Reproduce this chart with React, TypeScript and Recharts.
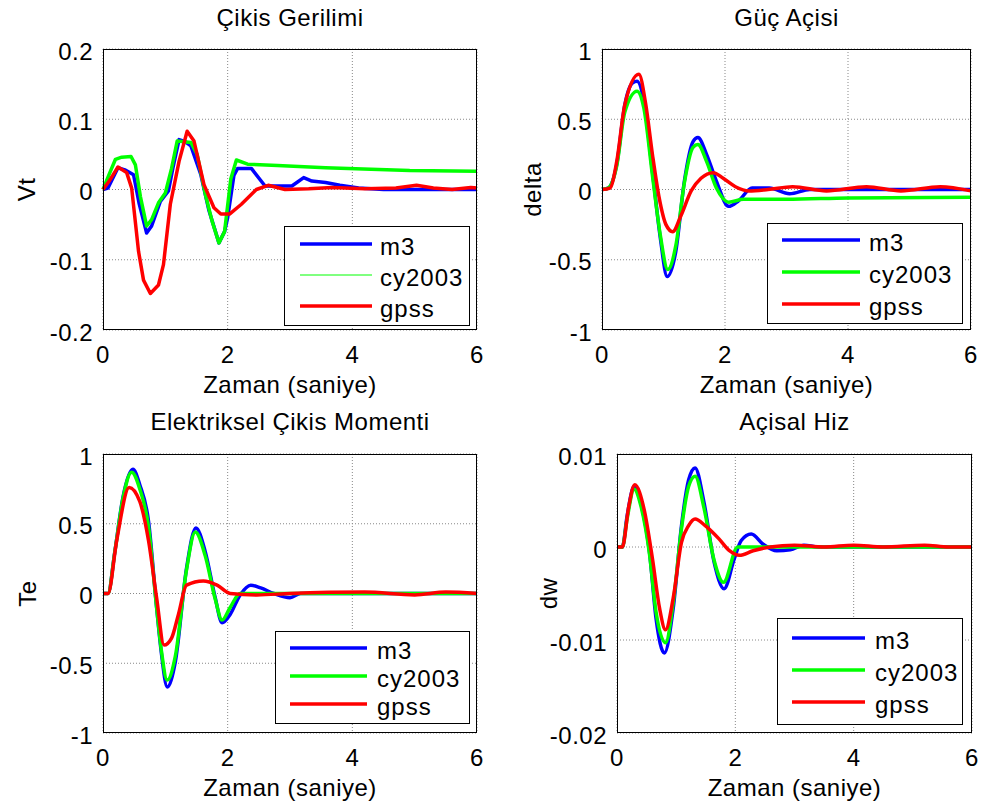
import { LineChart, Line, XAxis, YAxis, CartesianGrid } from "recharts";

type Pt = [number, number];

const seriesNames = ["m3", "cy2003", "gpss"];
const seriesColors = ["#0000ff", "#00ff00", "#ff0000"];
const xTicks = [0, 2, 4, 6];

// Çikis Gerilimi (Vt)
const vtTicks = [-0.2, -0.1, 0, 0.1, 0.2];
const vtM3: Pt[] = [
  [0, 0], [0.08, 0.002], [0.24, 0.031], [0.35, 0.028], [0.49, 0.021], [0.58, -0.02],
  [0.7, -0.062], [0.78, -0.052], [0.92, -0.017], [1.05, -0.002], [1.12, 0.03], [1.22, 0.071],
  [1.32, 0.068], [1.41, 0.062], [1.57, 0.021], [1.7, -0.03], [1.86, -0.076], [1.95, -0.06],
  [2.0, -0.04], [2.1, 0.02], [2.16, 0.03], [2.38, 0.03], [2.6, 0.005], [3.03, 0.005],
  [3.22, 0.017], [3.35, 0.012], [3.57, 0.01], [3.8, 0.006], [4.1, 0.002], [4.5, 0], [6, 0],
];
const vtCy: Pt[] = [
  [0, 0], [0.1, 0.022], [0.2, 0.043], [0.3, 0.046], [0.45, 0.047], [0.52, 0.035], [0.6, -0.01],
  [0.7, -0.052], [0.78, -0.043], [0.89, -0.019], [1.0, -0.005], [1.1, 0.03], [1.19, 0.069],
  [1.3, 0.068], [1.41, 0.067], [1.51, 0.05], [1.65, -0.01], [1.75, -0.045], [1.86, -0.076],
  [1.95, -0.06], [2.05, 0.015], [2.14, 0.042], [2.32, 0.036], [2.8, 0.034], [3.57, 0.031],
  [4.3, 0.029], [4.92, 0.027], [6, 0.026],
];
const vtGpss: Pt[] = [
  [0, 0], [0.1, 0.012], [0.24, 0.032], [0.38, 0.024], [0.46, 0.002], [0.57, -0.088],
  [0.65, -0.129], [0.76, -0.148], [0.89, -0.136], [0.97, -0.107], [1.08, -0.021], [1.22, 0.04],
  [1.35, 0.083], [1.46, 0.069], [1.62, 0.007], [1.78, -0.026], [1.89, -0.035], [2.03, -0.035],
  [2.22, -0.021], [2.46, 0], [2.65, 0.006], [2.92, 0], [3.3, 0.001], [3.68, 0.003], [4.2, 0.001],
  [4.7, 0.002], [5.03, 0.006], [5.3, 0.002], [5.6, 0], [5.9, 0.003], [6, 0.002],
];

// Güç Açisi (delta)
const unitTicks = [-1, -0.5, 0, 0.5, 1];
const deltaM3: Pt[] = [
  [0, 0], [0.1, 0.01], [0.24, 0.18], [0.37, 0.6], [0.5, 0.76], [0.57, 0.77], [0.68, 0.63],
  [0.82, 0.13], [0.95, -0.35], [1.06, -0.62], [1.2, -0.44], [1.34, 0.06], [1.48, 0.34],
  [1.56, 0.37], [1.7, 0.25], [1.86, 0.06], [2.06, -0.12], [2.22, -0.08], [2.44, 0.01],
  [2.72, 0.01], [3.05, -0.03], [3.38, 0], [6, 0],
];
const deltaCy: Pt[] = [
  [0, 0], [0.1, 0.01], [0.24, 0.17], [0.37, 0.55], [0.57, 0.7], [0.68, 0.58], [0.82, 0.1],
  [0.95, -0.33], [1.07, -0.57], [1.2, -0.4], [1.34, 0.05], [1.48, 0.3], [1.56, 0.32],
  [1.7, 0.2], [1.86, 0.01], [2.06, -0.09], [2.3, -0.07], [3.0, -0.07], [4.0, -0.06], [6, -0.055],
];
const deltaGpss: Pt[] = [
  [0, 0], [0.13, 0.01], [0.24, 0.2], [0.37, 0.6], [0.6, 0.82], [0.71, 0.61], [0.82, 0.25],
  [0.93, -0.06], [1.04, -0.25], [1.15, -0.3], [1.28, -0.19], [1.45, -0.01], [1.61, 0.08],
  [1.81, 0.12], [1.97, 0.08], [2.17, 0.02], [2.39, -0.01], [2.7, 0], [3.1, 0.02], [3.65, -0.01],
  [4.3, 0.02], [4.86, -0.01], [5.5, 0.02], [6, -0.01],
];

// Elektriksel Çikis Momenti (Te)
const teM3: Pt[] = [
  [0, 0], [0.08, 0], [0.19, 0.3], [0.32, 0.69], [0.48, 0.89], [0.59, 0.78], [0.73, 0.52],
  [0.86, -0.1], [0.94, -0.44], [1.03, -0.67], [1.16, -0.49], [1.34, 0.18], [1.49, 0.47],
  [1.64, 0.3], [1.8, -0.03], [1.91, -0.21], [2.04, -0.15], [2.2, -0.01], [2.37, 0.06],
  [2.53, 0.04], [2.74, 0], [3.0, -0.03], [3.17, 0], [6, 0],
];
const teCy: Pt[] = [
  [0, 0], [0.08, 0], [0.19, 0.3], [0.32, 0.68], [0.46, 0.87], [0.59, 0.75], [0.73, 0.48],
  [0.86, -0.1], [0.94, -0.42], [1.03, -0.62], [1.16, -0.45], [1.34, 0.17], [1.48, 0.44],
  [1.64, 0.27], [1.8, -0.04], [1.91, -0.19], [2.04, -0.1], [2.2, 0], [6, 0],
];
const teGpss: Pt[] = [
  [0, 0], [0.08, 0], [0.22, 0.38], [0.42, 0.76], [0.59, 0.66], [0.73, 0.38], [0.86, -0.03],
  [0.98, -0.37], [1.1, -0.32], [1.21, -0.15], [1.34, 0.06], [1.61, 0.09], [1.83, 0.06],
  [2.04, 0], [2.47, -0.01], [3.0, 0], [4.2, 0.01], [5.0, -0.01], [5.5, 0.01], [6, 0],
];

// Açisal Hiz (dw)
const dwTicks = [-0.02, -0.01, 0, 0.01];
const dwM3: Pt[] = [
  [0, 0], [0.09, 0], [0.17, 0.0033], [0.29, 0.0065], [0.4, 0.0048], [0.55, -0.0006],
  [0.66, -0.0077], [0.8, -0.0114], [0.95, -0.0066], [1.09, 0.0023], [1.21, 0.0072],
  [1.32, 0.0085], [1.47, 0.0048], [1.64, -0.0016], [1.81, -0.0045], [1.98, -0.0013],
  [2.1, 0.0007], [2.27, 0.0014], [2.47, 0.0003], [2.7, -0.0004], [2.93, -0.0003],
  [3.16, 0.0002], [3.4, 0], [6, 0],
];
const dwCy: Pt[] = [
  [0, 0], [0.09, 0], [0.17, 0.003], [0.29, 0.0062], [0.4, 0.0045], [0.55, -0.0008],
  [0.66, -0.007], [0.82, -0.0103], [0.95, -0.006], [1.09, 0.002], [1.21, 0.0065],
  [1.32, 0.0076], [1.47, 0.0042], [1.64, -0.0014], [1.8, -0.0038], [2.04, 0], [6, 0],
];
const dwGpss: Pt[] = [
  [0, 0], [0.09, 0], [0.2, 0.0044], [0.3, 0.0067], [0.46, 0.004], [0.6, -0.0013],
  [0.72, -0.0066], [0.82, -0.0089], [0.95, -0.0055], [1.09, 0.0005], [1.21, 0.0023],
  [1.32, 0.003], [1.49, 0.0023], [1.72, 0.0009], [1.9, -0.0004], [2.07, -0.0009],
  [2.3, -0.0004], [2.59, 0], [3.0, 0.0002], [3.5, 0], [4.0, 0.0002], [4.5, 0], [5.2, 0.0002],
  [5.6, 0], [6, 0],
];

const FONT = '"Liberation Sans", Arial, sans-serif';
const textStyle = { fontFamily: FONT, fontSize: 24, letterSpacing: 0.5 };

type LegendBox = { x: number; y: number; w: number; h: number; row0: number; gap: number; l0: number; l1: number; tx: number };

type PanelProps = {
  left: number;
  top: number;
  width: number;
  height: number;
  plotLeft: number;
  plotTop: number;
  plotRight: number;
  xAxisH: number;
  title: string;
  yLabel: string;
  yLabelX: number;
  xLabelOffset: number;
  yDomain: [number, number];
  yTicks: number[];
  series: Pt[][];
  curve: "linear" | "monotone";
  legend: LegendBox;
  legendWidths: number[];
};

const Panel = (p: PanelProps) => {
  const plotW = p.width - p.plotLeft - p.plotRight;
  const plotH = p.height - p.plotTop - p.xAxisH;
  const lg = p.legend;
  return (
    <div style={{ position: "absolute", left: p.left, top: p.top, width: p.width, height: p.height }}>
      <div
        style={{
          position: "absolute",
          left: p.plotLeft,
          top: 4,
          width: plotW,
          textAlign: "center",
          ...textStyle,
          lineHeight: "28px",
          color: "#000",
          whiteSpace: "nowrap",
        }}
      >
        {p.title}
      </div>
      <LineChart
        width={p.width}
        height={p.height}
        margin={{ top: p.plotTop, right: p.plotRight, bottom: 0, left: 0 }}
      >
        <CartesianGrid stroke="#888" strokeDasharray="1 2" />
        <XAxis
          dataKey="t"
          type="number"
          domain={[0, 6]}
          ticks={xTicks}
          height={p.xAxisH}
          tickSize={0}
          tickMargin={16}
          tickLine={false}
          axisLine={false}
          tick={{ ...textStyle, fill: "#000" }}
          label={{
            value: "Zaman (saniye)",
            position: "insideBottom",
            offset: p.xLabelOffset,
            fill: "#000",
            style: { ...textStyle, fill: "#000" },
          }}
        />
        <YAxis
          type="number"
          domain={p.yDomain}
          ticks={p.yTicks}
          width={p.plotLeft}
          tickSize={0}
          tickMargin={10}
          tickLine={false}
          axisLine={false}
          tick={{ ...textStyle, fill: "#000", dy: 2 }}
          label={{
            value: p.yLabel,
            angle: -90,
            position: "insideLeft",
            offset: p.yLabelX,
            fill: "#000",
            style: { ...textStyle, fill: "#000", textAnchor: "middle" },
          }}
        />
        {p.series.map((s, i) => (
          <Line
            key={seriesNames[i]}
            data={s.map(([t, v]) => ({ t, v }))}
            dataKey="v"
            name={seriesNames[i]}
            type={p.curve}
            stroke={seriesColors[i]}
            strokeWidth={3.5}
            strokeLinejoin="round"
            dot={false}
            activeDot={false}
            isAnimationActive={false}
          />
        ))}
      </LineChart>
      <div
        style={{
          position: "absolute",
          left: p.plotLeft,
          top: p.plotTop,
          width: plotW,
          height: plotH,
          border: "1px solid #000",
          boxSizing: "border-box",
          pointerEvents: "none",
        }}
      />
      <svg
        width={lg.w}
        height={lg.h}
        style={{ position: "absolute", left: lg.x, top: lg.y, overflow: "visible" }}
      >
        <rect x={0.5} y={0.5} width={lg.w - 1} height={lg.h - 1} fill="#fff" stroke="#000" strokeWidth={1} />
        {seriesNames.map((n, i) => {
          const y = lg.row0 + i * lg.gap;
          return (
            <g key={n}>
              <line x1={lg.l0} x2={lg.l1} y1={y} y2={y} stroke={seriesColors[i]} strokeWidth={p.legendWidths[i]} />
              <text x={lg.tx} y={y + 11} fill="#000" style={{ ...textStyle, letterSpacing: 1 }}>
                {n}
              </text>
            </g>
          );
        })}
      </svg>
    </div>
  );
};

export default function App() {
  return (
    <div
      style={{
        position: "absolute",
        left: 0,
        top: 0,
        width: 981,
        height: 807,
        background: "#fff",
        fontFamily: FONT,
      }}
    >
      <Panel
        left={0}
        top={0}
        width={490}
        height={400}
        plotLeft={103}
        plotTop={49}
        plotRight={13}
        xAxisH={70}
        title="Çikis Gerilimi"
        yLabel="Vt"
        yLabelX={26}
        xLabelOffset={7}
        yDomain={[-0.2, 0.2]}
        yTicks={vtTicks}
        series={[vtM3, vtCy, vtGpss]}
        curve="linear"
        legend={{ x: 284, y: 226, w: 186, h: 100, row0: 18, gap: 31, l0: 16, l1: 88, tx: 96 }}
        legendWidths={[3.5, 1, 3.5]}
      />
      <Panel
        left={490}
        top={0}
        width={491}
        height={400}
        plotLeft={112}
        plotTop={49}
        plotRight={10}
        xAxisH={70}
        title="Güç Açisi"
        yLabel="delta"
        yLabelX={42}
        xLabelOffset={7}
        yDomain={[-1, 1]}
        yTicks={unitTicks}
        series={[deltaM3, deltaCy, deltaGpss]}
        curve="monotone"
        legend={{ x: 277, y: 223, w: 196, h: 101, row0: 17, gap: 32, l0: 15, l1: 93, tx: 102 }}
        legendWidths={[3.5, 3.5, 3.5]}
      />
      <Panel
        left={0}
        top={404}
        width={490}
        height={403}
        plotLeft={103}
        plotTop={50}
        plotRight={13}
        xAxisH={74}
        title="Elektriksel Çikis Momenti"
        yLabel="Te"
        yLabelX={27}
        xLabelOffset={11}
        yDomain={[-1, 1]}
        yTicks={unitTicks}
        series={[teM3, teCy, teGpss]}
        curve="monotone"
        legend={{ x: 275, y: 227, w: 195, h: 93, row0: 17, gap: 28, l0: 15, l1: 92, tx: 102 }}
        legendWidths={[3.5, 3.5, 3.5]}
      />
      <Panel
        left={490}
        top={404}
        width={491}
        height={403}
        plotLeft={127}
        plotTop={50}
        plotRight={9}
        xAxisH={74}
        title="Açisal Hiz"
        yLabel="dw"
        yLabelX={58}
        xLabelOffset={11}
        yDomain={[-0.02, 0.01]}
        yTicks={dwTicks}
        series={[dwM3, dwCy, dwGpss]}
        curve="monotone"
        legend={{ x: 287, y: 214, w: 186, h: 107, row0: 20, gap: 32, l0: 15, l1: 88, tx: 98 }}
        legendWidths={[3.5, 3.5, 3.5]}
      />
    </div>
  );
}
